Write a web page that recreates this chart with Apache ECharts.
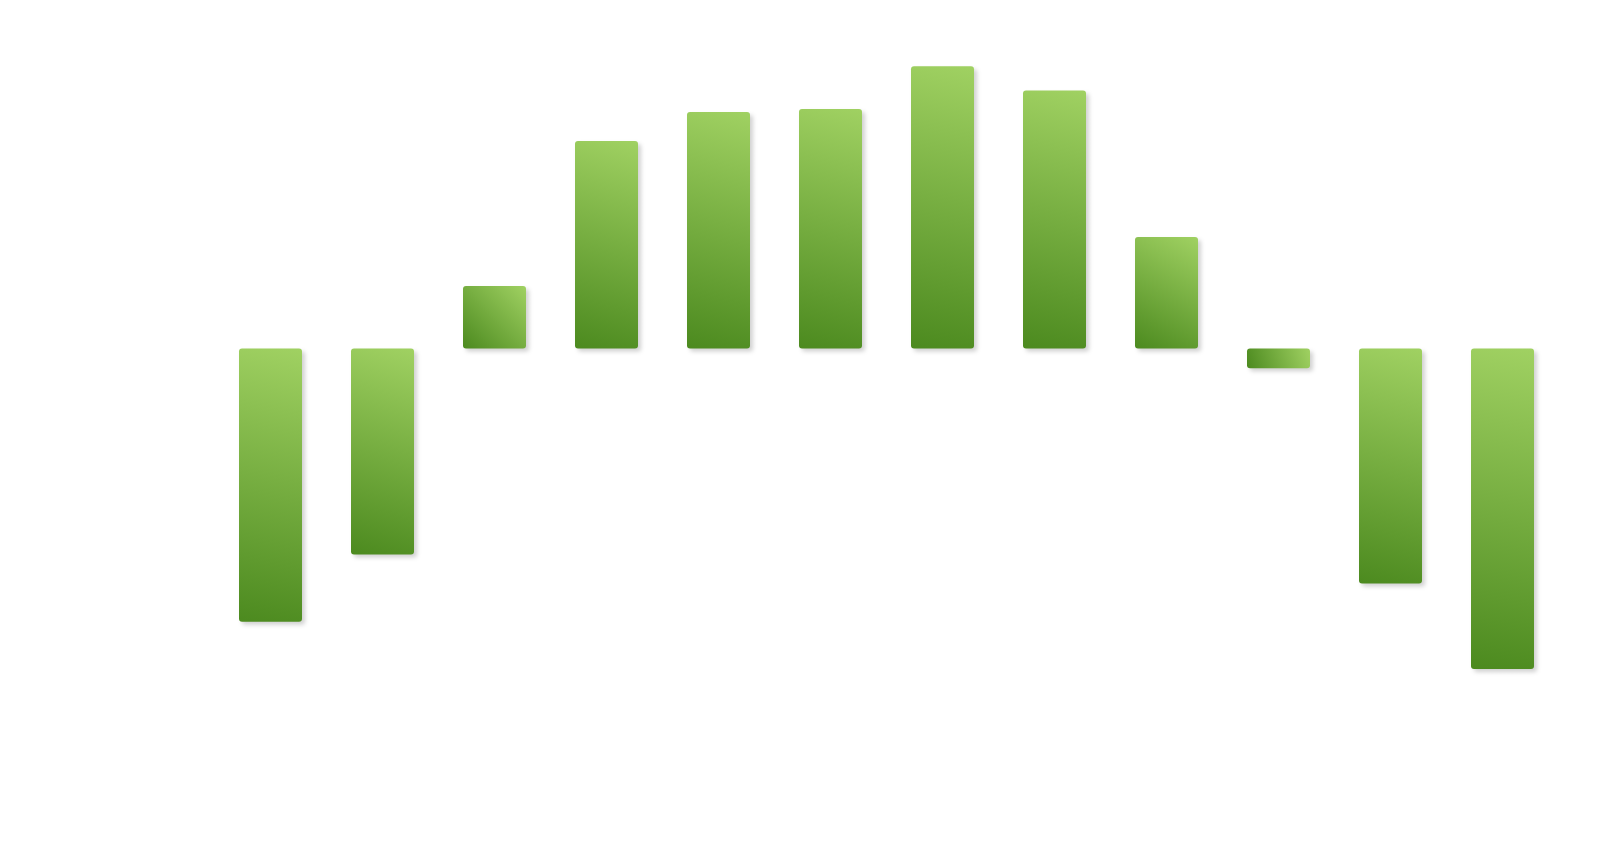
<!DOCTYPE html>
<html>
<head>
<meta charset="utf-8">
<script src="https://cdn.jsdelivr.net/npm/echarts@6/dist/echarts.min.js"></script>
<style>
    html, body { margin: 0; padding: 0; background: #fff; }
    #chart { width: 1600px; height: 860px; }
</style>
</head>
<body>
<div id="chart"></div>
<script>
var months = ['Jan', 'Feb', 'Mar', 'Apr', 'May', 'Jun', 'Jul', 'Aug', 'Sep', 'Oct', 'Nov', 'Dec'];
var values = [-17.9, -13.5, 4.1, 13.6, 15.5, 15.7, 18.5, 16.9, 7.3, -1.3, -15.4, -21.0];

var chart = echarts.init(document.getElementById('chart'));

var option = {
    backgroundColor: '#ffffff',
    animation: false,
    grid: {
        left: 214.5,
        right: 41.5,
        top: 43.3,
        height: 686.7
    },
    xAxis: {
        type: 'category',
        data: months,
        axisLine: { show: false },
        axisTick: { show: false },
        axisLabel: { show: false }
    },
    yAxis: {
        type: 'value',
        min: -25,
        max: 20,
        interval: 5,
        axisLine: { show: false },
        axisTick: { show: false },
        axisLabel: { color: '#ffffff' },
        splitLine: { lineStyle: { color: '#ffffff' } }
    },
    series: [{
        type: 'bar',
        data: values,
        barWidth: 63,
        itemStyle: {
            borderRadius: 3,
            color: new echarts.graphic.LinearGradient(0, 1, 1, 0, [
                { offset: 0, color: '#4c8a1f' },
                { offset: 1, color: '#a0d162' }
            ]),
            shadowColor: 'rgba(0, 0, 0, 0.18)',
            shadowBlur: 4,
            shadowOffsetX: 3,
            shadowOffsetY: 3
        }
    }]
};

chart.setOption(option);
</script>
</body>
</html>
